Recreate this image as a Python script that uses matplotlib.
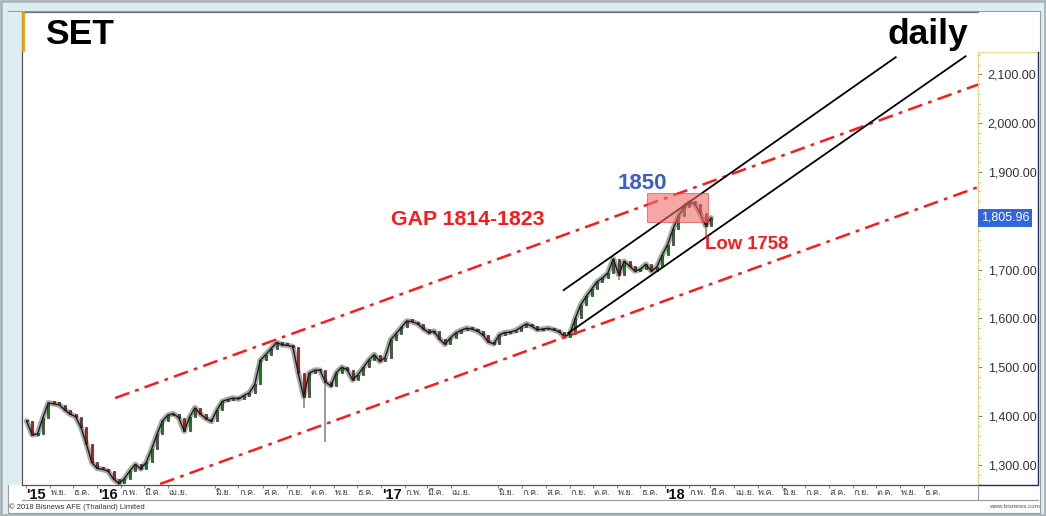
import numpy as np
import pandas as pd
import matplotlib
matplotlib.use('Agg')
import matplotlib.pyplot as plt
import matplotlib.dates as mdates
from matplotlib.patches import Rectangle
from matplotlib.lines import Line2D
from matplotlib import font_manager
from matplotlib.ft2font import FT2Font
import matplotlib.transforms as mtransforms

# ---- data (weekly closes, SET index) ----
first_week = '2015-10-02'
closes = [1390, 1362, 1363, 1397, 1427, 1425, 1423, 1413, 1404, 1399,
          1377, 1343, 1305, 1293, 1291, 1287, 1271, 1262, 1272, 1288,
          1301, 1292, 1305, 1332, 1363, 1390, 1402, 1405, 1397, 1369,
          1398, 1417, 1404, 1395, 1389, 1412, 1430, 1434, 1437, 1435,
          1442, 1448, 1465, 1514, 1526, 1538, 1551, 1546, 1545, 1542,
          1488, 1440, 1488, 1494, 1494, 1470, 1462, 1489, 1500, 1495,
          1474, 1485, 1500, 1515, 1526, 1512, 1520, 1556, 1569, 1582,
          1595, 1593, 1589, 1579, 1571, 1574, 1558, 1547, 1560, 1570,
          1576, 1580, 1578, 1574, 1566, 1552, 1548, 1566, 1571, 1572,
          1575, 1582, 1589, 1584, 1577, 1578, 1580, 1577, 1573, 1563,
          1568, 1600, 1628, 1645, 1660, 1675, 1683, 1693, 1722, 1690,
          1717, 1707, 1697, 1701, 1711, 1697, 1705, 1730, 1751, 1783,
          1810, 1828, 1837, 1835, 1815, 1790, 1805.96]
last_close = 1805.96
spike_dates = ['2016-01-29', '2016-09-23', '2016-10-21', '2017-11-03', '2018-02-23']
spike_lows = [1240, 1417, 1347, 1678, 1765]

# trend lines (start/end date, start/end value)
red_upper_d, red_upper_v = ['2016-01-24', '2019-02-09'], [1437, 2079]
red_lower_d, red_lower_v = ['2016-03-22', '2019-02-09'], [1261, 1869]
blk_upper_d, blk_upper_v = ['2017-08-24', '2018-10-26'], [1658, 2135]
blk_lower_d, blk_lower_v = ['2017-08-30', '2019-01-24'], [1570, 2137]
zone_d, zone_v = ['2017-12-10', '2018-02-26'], [1798, 1856]

# x axis month labels
tick_dates = ['2015-10-01', '2015-11-01', '2015-12-01', '2016-01-01', '2016-02-01',
              '2016-03-01', '2016-04-01', '2016-06-01', '2016-07-01', '2016-08-01',
              '2016-09-01', '2016-10-01', '2016-11-01', '2016-12-01', '2017-01-01',
              '2017-02-01', '2017-03-01', '2017-04-01', '2017-06-01', '2017-07-01',
              '2017-08-01', '2017-09-01', '2017-10-01', '2017-11-01', '2017-12-01',
              '2018-01-01', '2018-02-01', '2018-03-01', '2018-04-01', '2018-05-01',
              '2018-06-01', '2018-07-01', '2018-08-01', '2018-09-01', '2018-10-01',
              '2018-11-01', '2018-12-01']
tick_labels = ["'15", 'พ.ย.', 'ธ.ค.', "'16", 'ก.พ.', 'มี.ค.', 'เม.ย.', 'มิ.ย.', 'ก.ค.',
               'ส.ค.', 'ก.ย.', 'ต.ค.', 'พ.ย.', 'ธ.ค.', "'17", 'ก.พ.', 'มี.ค.', 'เม.ย.',
               'มิ.ย.', 'ก.ค.', 'ส.ค.', 'ก.ย.', 'ต.ค.', 'พ.ย.', 'ธ.ค.', "'18", 'ก.พ.',
               'มี.ค.', 'เม.ย.', 'พ.ค.', 'มิ.ย.', 'ก.ค.', 'ส.ค.', 'ก.ย.', 'ต.ค.',
               'พ.ย.', 'ธ.ค.']
y_ticks = [1300, 1400, 1500, 1600, 1700, 1800, 1900, 2000, 2100]

# find a font with Thai glyphs
thai_font = None
for f in font_manager.fontManager.ttflist:
    try:
        if FT2Font(f.fname).get_char_index(0x0E01):
            thai_font = f.name
            break
    except Exception:
        pass
thai_family = [thai_font, 'DejaVu Sans'] if thai_font else ['DejaVu Sans']

plt.rcParams['font.family'] = ['Liberation Sans', 'DejaVu Sans']

W, H = 1046, 516
fig = plt.figure(figsize=(W / 100, H / 100), dpi=100)
fig.patch.set_facecolor('#dcedf3')


def fx(x):
    return x / W


def fy(y):
    return 1 - y / H


# frame and panel (behind the axes)
fig.patches.append(Rectangle((0.001, 0.002), 0.998, 0.996, transform=fig.transFigure,
                             fill=False, edgecolor='#aab4b9', lw=2, zorder=-3))
fig.patches.append(Rectangle((fx(8), fy(513)), fx(1040) - fx(8), fy(11) - fy(513),
                             transform=fig.transFigure, facecolor='white',
                             edgecolor='#9a9a9a', lw=0.8, zorder=-2))
fig.patches.append(Rectangle((fx(8), fy(485)), fx(22) - fx(8), fy(12) - fy(485),
                             transform=fig.transFigure, facecolor='#dcedf3',
                             edgecolor='none', zorder=-1))

ax = fig.add_axes([fx(22), fy(485), fx(978) - fx(22), fy(12) - fy(485)])
ax.set_facecolor('white')

dates = pd.date_range(first_week, periods=len(closes), freq='7D')
c = np.array(closes, dtype=float)
o = np.r_[c[0], c[:-1]]

# price: grey shadow, candles, black line
ax.plot(dates, c, color='#a8a8a8', lw=4.0, zorder=2, solid_capstyle='round',
        solid_joinstyle='round')
up = c >= o
body = np.where(np.abs(c - o) < 3, 3, c - o)
ax.vlines(pd.to_datetime(spike_dates), spike_lows,
          [c[list(dates).index(pd.Timestamp(d))] for d in spike_dates],
          color='#8a8a8a', lw=1.2, zorder=2)
ax.bar(dates[up], body[up], bottom=o[up], width=2.6, color='#1f7a1f',
       edgecolor='#111111', lw=0.4, zorder=3)
ax.bar(dates[~up], body[~up], bottom=o[~up], width=2.6, color='#b51c1c',
       edgecolor='#111111', lw=0.4, zorder=3)
ax.plot(dates, c, color='#1a1a1a', lw=1.0, zorder=4)

# channel lines
red = '#ff1a1a'
ax.plot(pd.to_datetime(red_upper_d), red_upper_v, color=red, lw=1.8, ls=(0, (6, 2.5, 1.5, 2.5)), zorder=5)
ax.plot(pd.to_datetime(red_lower_d), red_lower_v, color=red, lw=1.8, ls=(0, (6, 2.5, 1.5, 2.5)), zorder=5)
ax.plot(pd.to_datetime(blk_upper_d), blk_upper_v, color='black', lw=1.3, zorder=5)
ax.plot(pd.to_datetime(blk_lower_d), blk_lower_v, color='black', lw=1.3, zorder=5)

zd = mdates.date2num(pd.to_datetime(zone_d))
ax.add_patch(Rectangle((zd[0], zone_v[0]), zd[1] - zd[0], zone_v[1] - zone_v[0],
                       facecolor='#f26b6b', alpha=0.6, edgecolor='#e04040', lw=0.8, zorder=6))

# annotations
ax.text(pd.Timestamp('2017-11-01'), 1877, '1850', color='#3a5fcd', fontsize=16,
        fontweight='bold', va='center', ha='left', zorder=7)
ax.text(pd.Timestamp('2017-01-13'), 1802, 'GAP 1814-1823', color='#ff1a1a', fontsize=15.3,
        fontweight='bold', va='center', ha='left', zorder=7)
ax.text(pd.Timestamp('2018-02-22'), 1752, 'Low 1758', color='#ff1a1a', fontsize=13.3,
        fontweight='bold', va='center', ha='left', zorder=7)

# axes limits
ax.set_xlim(pd.Timestamp('2015-09-26'), pd.Timestamp('2019-02-09'))
ax.set_ylim(1258.9, 2227.6)

# y axis on the right (1,800.00 sits under the price marker)
ax.yaxis.tick_right()
ax.set_yticks(y_ticks, ['' if v == 1800 else f'{v:,.2f}' for v in y_ticks])
ax.set_yticks(np.arange(1260, 2145, 20), minor=True)
ax.tick_params(axis='y', which='major', length=3, color='#888888', labelsize=9,
               labelcolor='#333333', pad=4)
ax.tick_params(axis='y', which='minor', length=1.5, color='#aaaaaa')
for s in ['top', 'left', 'bottom', 'right']:
    ax.spines[s].set_color('#555555')
    ax.spines[s].set_linewidth(0.9)
ax.spines['right'].set_color('#e8c860')
ax.spines['right'].set_linestyle(':')
ax.spines['right'].set_bounds(1258.9, 2145.7)
ax.spines['top'].set_color('#777777')

# x axis month labels
ax.set_xticks(pd.to_datetime(tick_dates), tick_labels)
ax.tick_params(axis='x', length=2, color='#888888', pad=0.5)
for lab in ax.get_xticklabels():
    lab.set_ha('left')
    if lab.get_text().startswith("'"):
        lab.set_fontsize(10.5)
        lab.set_fontweight('bold')
        lab.set_color('#111111')
        lab.set_family(['Liberation Sans', 'DejaVu Sans'])
    else:
        lab.set_fontsize(6.5)
        lab.set_color('#444444')
        lab.set_family(thai_family)
    lab.set_transform(lab.get_transform() + mtransforms.ScaledTranslation(0.5 / 100, 0, fig.dpi_scale_trans))

# right axis box lines and bottom rule
fig.lines.append(Line2D([fx(978), fx(1038)], [fy(52), fy(52)], transform=fig.transFigure,
                        color='#f0dc9a', lw=1))
fig.lines.append(Line2D([fx(1038), fx(1038), fx(978)], [fy(52), fy(485), fy(485)],
                        transform=fig.transFigure, color='#1c2a6e', lw=1))
fig.lines.append(Line2D([fx(22), fx(1038)], [fy(500), fy(500)], transform=fig.transFigure,
                        color='#999999', lw=0.8))
fig.lines.append(Line2D([fx(978), fx(978)], [fy(485), fy(500)], transform=fig.transFigure,
                        color='#999999', lw=0.8))
fig.lines.append(Line2D([fx(22.5), fx(22.5)], [fy(12), fy(50)], transform=fig.transFigure,
                        color='#f39c12', lw=2))

# current price marker on right axis
tr = mtransforms.blended_transform_factory(ax.transAxes, ax.transData)
ax.text(1.003, last_close, f'{last_close:,.2f}', transform=tr, color='white', fontsize=9,
        va='center', ha='left', zorder=8, clip_on=False,
        bbox=dict(boxstyle='square,pad=0.25', facecolor='#3366dd', edgecolor='none'))

# titles and footer
fig.text(fx(45), fy(44), 'SET', fontsize=25.5, fontweight='bold', va='baseline')
fig.text(fx(968), fy(44), 'daily', fontsize=25.5, fontweight='bold', va='baseline', ha='right')
fig.text(fx(9), fy(507), '© 2018 Bisnews AFE (Thailand) Limited', fontsize=5.5,
         color='#333333', va='center')
fig.text(fx(1040), fy(507), 'www.bisnews.com', fontsize=4.5, color='#555555',
         va='center', ha='right')

fig.savefig('out.png', dpi=100, facecolor=fig.get_facecolor())
